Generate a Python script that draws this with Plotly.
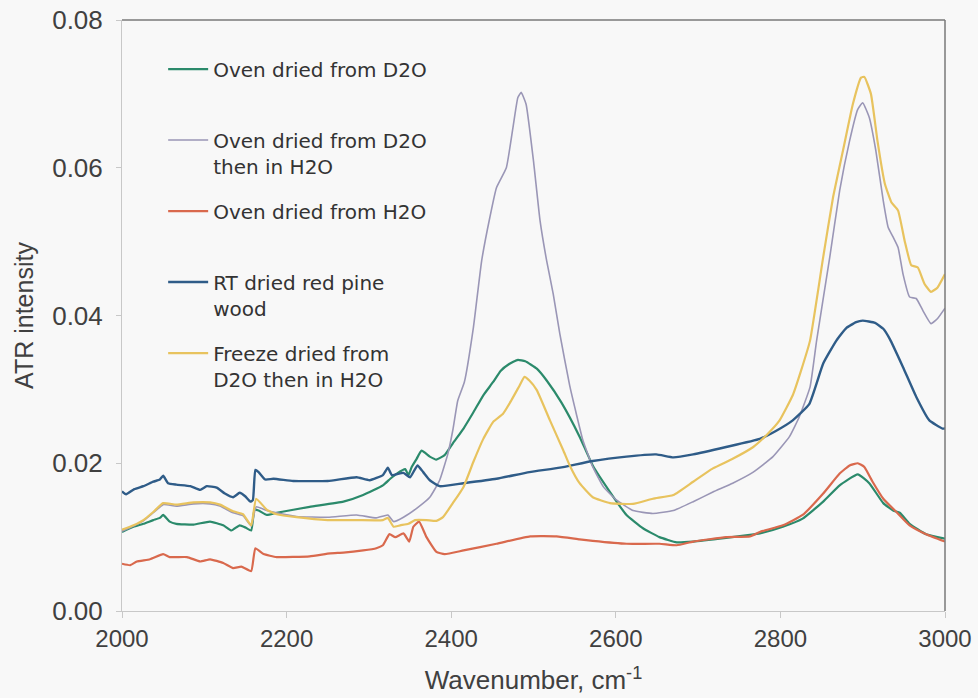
import plotly.graph_objects as go

# ---- data (wavenumber, ATR intensity) ----
green_d2o = [(2000,0.0107),(2014,0.0114),(2026,0.0118),(2038,0.0123),(2046,0.0126),(2050,0.0130),(2058,0.0121),(2066,0.0118),(2087,0.0117),(2107,0.0121),(2123,0.0116),(2133,0.0109),(2143,0.0116),(2150,0.0113),(2157,0.0109),(2161,0.0137),(2166,0.0136),(2176,0.0130),(2188,0.0133),(2228,0.0141),(2269,0.0148),(2293,0.0157),(2317,0.0170),(2326,0.0179),(2334,0.0186),(2344,0.0192),(2348,0.0184),(2352,0.0195),(2358,0.0206),(2364,0.0217),(2374,0.0209),(2382,0.0205),(2392,0.0211),(2402,0.0227),(2415,0.0247),(2427,0.0269),(2439,0.0292),(2451,0.0310),(2460,0.0325),(2470,0.0334),(2481,0.0340),(2490,0.0338),(2504,0.0328),(2516,0.0312),(2534,0.0282),(2556,0.0236),(2572,0.0197),(2593,0.0161),(2613,0.0130),(2633,0.0112),(2653,0.0100),(2674,0.0093),(2694,0.0094),(2734,0.0099),(2763,0.0103),(2775,0.0105),(2803,0.0114),(2827,0.0125),(2852,0.0148),(2872,0.0170),(2894,0.0185),(2908,0.0173),(2925,0.0146),(2937,0.0136),(2945,0.0133),(2957,0.0118),(2977,0.0104),(3000,0.0098)]

gray_d2o_h2o = [(2000,0.0108),(2014,0.0115),(2026,0.0122),(2038,0.0133),(2050,0.0144),(2066,0.0142),(2087,0.0145),(2107,0.0145),(2119,0.0142),(2135,0.0133),(2147,0.0129),(2157,0.0115),(2163,0.0141),(2176,0.0136),(2188,0.0133),(2212,0.0128),(2250,0.0127),(2285,0.0130),(2309,0.0126),(2323,0.0130),(2330,0.0121),(2342,0.0127),(2358,0.0139),(2374,0.0154),(2386,0.0177),(2396,0.0213),(2402,0.0245),(2408,0.0285),(2416,0.0310),(2427,0.0384),(2437,0.0474),(2447,0.0533),(2455,0.0573),(2467,0.0600),(2475,0.0654),(2481,0.0695),(2485,0.0702),(2491,0.0686),(2500,0.0609),(2508,0.0528),(2516,0.0474),(2524,0.0429),(2532,0.0375),(2544,0.0305),(2552,0.0267),(2560,0.0231),(2572,0.0195),(2585,0.0168),(2601,0.0150),(2621,0.0136),(2645,0.0132),(2670,0.0136),(2694,0.0148),(2718,0.0161),(2742,0.0173),(2767,0.0188),(2791,0.0209),(2811,0.0236),(2823,0.0263),(2836,0.0303),(2844,0.0366),(2860,0.0479),(2872,0.0569),(2884,0.0636),(2894,0.0679),(2900,0.0688),(2908,0.0668),(2916,0.0623),(2925,0.0555),(2931,0.0519),(2937,0.0506),(2943,0.0492),(2949,0.0456),(2957,0.0425),(2965,0.0423),(2973,0.0407),(2983,0.0389),(2991,0.0396),(3000,0.0410)]

red_h2o = [(2000,0.0064),(2010,0.0062),(2018,0.0067),(2034,0.0070),(2050,0.0077),(2058,0.0073),(2079,0.0073),(2095,0.0067),(2107,0.0070),(2123,0.0065),(2135,0.0058),(2145,0.0060),(2157,0.0054),(2162,0.0085),(2172,0.0077),(2188,0.0073),(2228,0.0074),(2253,0.0078),(2269,0.0079),(2293,0.0082),(2309,0.0085),(2317,0.0089),(2325,0.0104),(2332,0.0100),(2342,0.0105),(2349,0.0094),(2354,0.0114),(2361,0.0121),(2370,0.0100),(2382,0.0080),(2392,0.0077),(2415,0.0082),(2455,0.0091),(2496,0.0101),(2528,0.0101),(2556,0.0097),(2572,0.0095),(2613,0.0091),(2653,0.0091),(2674,0.0089),(2694,0.0094),(2734,0.0100),(2763,0.0101),(2775,0.0107),(2803,0.0116),(2827,0.0130),(2852,0.0159),(2872,0.0186),(2884,0.0197),(2894,0.0200),(2902,0.0195),(2912,0.0175),(2925,0.0152),(2941,0.0134),(2957,0.0116),(2977,0.0104),(3000,0.0094)]

blue_rt = [(2000,0.0162),(2005,0.0158),(2015,0.0165),(2026,0.0169),(2038,0.0175),(2046,0.0178),(2050,0.0183),(2056,0.0173),(2066,0.0171),(2083,0.0169),(2095,0.0164),(2103,0.0169),(2115,0.0167),(2125,0.0159),(2135,0.0154),(2143,0.0160),(2150,0.0155),(2156,0.0148),(2159,0.0150),(2162,0.0191),(2166,0.0188),(2174,0.0178),(2184,0.0179),(2208,0.0176),(2250,0.0176),(2285,0.0181),(2301,0.0177),(2317,0.0184),(2323,0.0194),(2328,0.0184),(2342,0.0187),(2350,0.0181),(2359,0.0197),(2366,0.0188),(2374,0.0177),(2386,0.0169),(2415,0.0173),(2455,0.0179),(2495,0.0188),(2532,0.0194),(2572,0.0203),(2613,0.0209),(2649,0.0212),(2670,0.0208),(2694,0.0212),(2734,0.0222),(2775,0.0233),(2795,0.0244),(2815,0.0258),(2835,0.0280),(2852,0.0335),(2868,0.0366),(2880,0.0383),(2892,0.0391),(2900,0.0393),(2915,0.0390),(2925,0.0382),(2933,0.0368),(2949,0.0330),(2965,0.0290),(2981,0.0258),(2997,0.0247),(3000,0.0247)]

yellow_freeze = [(2000,0.0110),(2014,0.0116),(2026,0.0123),(2038,0.0134),(2050,0.0146),(2066,0.0144),(2087,0.0147),(2107,0.0147),(2119,0.0144),(2135,0.0135),(2147,0.0131),(2157,0.0116),(2163,0.0152),(2176,0.0137),(2188,0.0131),(2212,0.0127),(2250,0.0123),(2285,0.0123),(2317,0.0123),(2323,0.0126),(2330,0.0114),(2338,0.0116),(2348,0.0118),(2356,0.0123),(2370,0.0123),(2382,0.0122),(2390,0.0127),(2402,0.0146),(2415,0.0168),(2427,0.0202),(2439,0.0233),(2451,0.0256),(2463,0.0267),(2473,0.0285),(2483,0.0305),(2489,0.0317),(2495,0.0312),(2504,0.0299),(2520,0.0258),(2536,0.0218),(2544,0.0197),(2556,0.0173),(2572,0.0154),(2593,0.0146),(2621,0.0145),(2645,0.0152),(2670,0.0157),(2694,0.0175),(2718,0.0193),(2742,0.0206),(2767,0.0222),(2783,0.0238),(2799,0.0258),(2815,0.0292),(2825,0.0325),(2836,0.0366),(2852,0.0479),(2864,0.0560),(2876,0.0623),(2888,0.0686),(2898,0.0722),(2902,0.0723),(2910,0.0700),(2918,0.0636),(2927,0.0578),(2935,0.0553),(2943,0.0542),(2951,0.0501),(2959,0.0468),(2967,0.0465),(2975,0.0443),(2983,0.0432),(2991,0.0438),(3000,0.0456)]

series_names = [
    "Oven dried from D2O<br>&nbsp;",
    "Oven dried from D2O<br>then in H2O",
    "Oven dried from H2O<br>&nbsp;",
    "RT dried red pine<br>wood",
    "Freeze dried from<br>D2O then in H2O",
]
series_data = [green_d2o, gray_d2o_h2o, red_h2o, blue_rt, yellow_freeze]
series_colors = ["#2b8a6b", "#9a96b6", "#d9694d", "#2f5c88", "#e8c35e"]
series_widths = [2.2, 1.6, 2.2, 2.4, 2.2]

x_ticks = [2000, 2200, 2400, 2600, 2800, 3000]
y_ticks = [0.00, 0.02, 0.04, 0.06, 0.08]
y_tick_text = ["0.00", "0.02", "0.04", "0.06", "0.08"]

fig = go.Figure()
for i, (name, pts, col, w) in enumerate(zip(series_names, series_data, series_colors, series_widths)):
    xs = [p[0] for p in pts]
    ys = [p[1] for p in pts]
    fig.add_trace(go.Scatter(
        x=xs, y=ys, mode="lines", name=name, legendgroup=f"g{i}",
        line=dict(color=col, width=w, shape="spline", smoothing=0.4),
    ))

bg = "#f8f8f8"
fig.update_layout(
    width=978, height=698,
    # plot area at x 122..945, y 20..611 (page body margin removed below)
    margin=dict(l=122, r=33, t=20, b=87, autoexpand=False),
    paper_bgcolor=bg, plot_bgcolor=bg,
    showlegend=True,
    legend=dict(
        x=0.05, y=0.95, xanchor="left", yanchor="top",
        valign="top", bgcolor="rgba(0,0,0,0)",
        font=dict(family="DejaVu Sans, sans-serif", size=20, color="#333333"),
        tracegroupgap=16, itemwidth=40,
    ),
    xaxis=dict(
        range=[2000, 3000], tickvals=x_ticks, ticktext=[str(v) for v in x_ticks],
        showgrid=False, zeroline=False, automargin=False,
        showline=True, linecolor="#c8c8c8", linewidth=1,
        ticks="outside", ticklen=6, tickcolor="#c8c8c8",
        ticklabeloverflow="allow",
        tickfont=dict(family="Liberation Sans, Arial, sans-serif", size=24, color="#404040"),
        title=dict(text="Wavenumber, cm<sup>-1</sup>", standoff=20,
                   font=dict(family="Liberation Sans, Arial, sans-serif", size=26, color="#404040")),
    ),
    yaxis=dict(
        range=[0, 0.08], tickvals=y_ticks, ticktext=y_tick_text,
        showgrid=False, zeroline=False, automargin=False,
        showline=True, linecolor="#c8c8c8", linewidth=1,
        ticks="outside", ticklen=5, tickcolor="#c8c8c8",
        ticklabelstandoff=8, ticklabeloverflow="allow",
        tickfont=dict(family="Liberation Sans, Arial, sans-serif", size=26, color="#404040"),
        title=dict(text="ATR intensity", standoff=11,
                   font=dict(family="Liberation Sans, Arial, sans-serif", size=25, color="#404040")),
    ),
    shapes=[
        dict(type="line", xref="paper", yref="paper", x0=0, x1=1, y0=1, y1=1,
             line=dict(color="#7a7a7a", width=1.5)),
        dict(type="line", xref="paper", yref="paper", x0=1, x1=1, y0=0, y1=1,
             line=dict(color="#7a7a7a", width=1.5)),
    ],
)

fig.write_html("out.html", config={"displayModeBar": False},
               post_script="document.body.style.margin='0';")
